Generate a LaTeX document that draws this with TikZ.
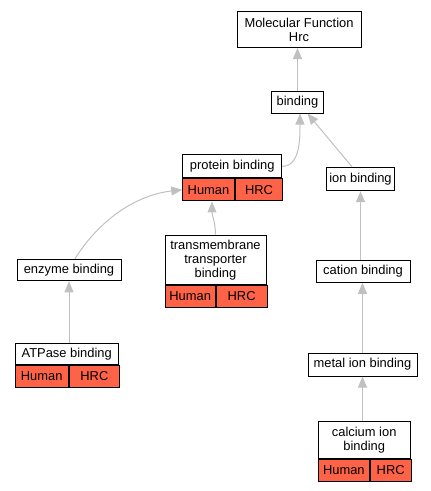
\documentclass[tikz,border=0pt]{standalone}
\usepackage{fontspec}
\setmainfont{Liberation Sans}
\usetikzlibrary{arrows.meta}
\definecolor{cellred}{HTML}{FF6347}
\definecolor{edgegray}{RGB}{192,192,192}
\begin{document}
\begin{tikzpicture}[x=1pt,y=-1pt,
  box/.style={draw=black,line width=1pt,fill=white,inner sep=0pt,align=center,
    font=\fontsize{12.9}{14}\selectfont},
  cell/.style={draw=black,line width=1pt,fill=cellred,inner sep=0pt,anchor=north west,
    font=\fontsize{12.9}{14}\selectfont},
  edge/.style={draw=edgegray,line width=1pt,-{Triangle[length=11pt,width=9pt]}}]
\useasboundingbox (0,0) rectangle (431,491);
% nodes
\node[box,minimum width=124pt,minimum height=36pt] (mf) at (299,29.5) {Molecular Function\\Hrc};
\node[box,minimum width=52pt,minimum height=22pt] (bind) at (297.5,102) {binding};
\node[box,minimum width=99pt,minimum height=22.7pt] (pb) at (232.2,166.3) {protein binding};
\node[cell,minimum width=51.6pt,minimum height=22.3pt] (pbh) at (pb.south west) {Human};
\node[cell,minimum width=47.4pt,minimum height=22.3pt] (pbr) at (pbh.north east) {HRC};
\node[box,minimum width=67.5pt,minimum height=23.4pt] (ion) at (360.5,179) {ion binding};
\node[box,minimum width=104pt,minimum height=21.5pt] (enz) at (69,270) {enzyme binding};
\node[box,minimum width=101pt,minimum height=49.3pt] (tm) at (215.5,259.7) {transmembrane\\transporter\\binding};
\node[cell,minimum width=50.3pt,minimum height=21.7pt] (tmh) at (tm.south west) {Human};
\node[cell,minimum width=50.7pt,minimum height=21.7pt] (tmr) at (tmh.north east) {HRC};
\node[box,minimum width=94pt,minimum height=21.5pt] (cat) at (363,271.5) {cation binding};
\node[box,minimum width=103.3pt,minimum height=21pt] (atp) at (66.7,353.8) {ATPase binding};
\node[cell,minimum width=53.3pt,minimum height=22.4pt] (atph) at (atp.south west) {Human};
\node[cell,minimum width=50pt,minimum height=22.4pt] (atpr) at (atph.north east) {HRC};
\node[box,minimum width=109pt,minimum height=23pt] (met) at (362.5,364.5) {metal ion binding};
\node[box,minimum width=91.7pt,minimum height=36.6pt] (cal) at (364.2,440) {calcium ion\\binding};
\node[cell,minimum width=51pt,minimum height=21.7pt] (calh) at (cal.south west) {Human};
\node[cell,minimum width=40.7pt,minimum height=21.7pt] (calr) at (calh.north east) {HRC};
% edges
\draw[edge] (bind.north) -- (bind.north |- mf.south);
\draw[edge] (pb.east) .. controls +(18,0) and +(0,25) .. ([xshift=2.5pt]bind.south);
\draw[edge] ([xshift=-8.5pt]ion.north) -- ([xshift=10pt]bind.south);
\draw[edge] ([xshift=6pt]enz.north) .. controls +(25,-40) and +(-45,5) .. (pbh.west);
\draw[edge] (tm.north) .. controls +(0,-12) and +(0,14) .. ([xshift=3.5pt]pbh.south);
\draw[edge] (atp.north -| enz.south) -- (enz.south);
\draw[edge] (cat.north -| ion.south) -- (ion.south);
\draw[edge] (met.north) -- (met.north |- cat.south);
\draw[edge] (cal.north -| met.south) -- (met.south);
\end{tikzpicture}
\end{document}
